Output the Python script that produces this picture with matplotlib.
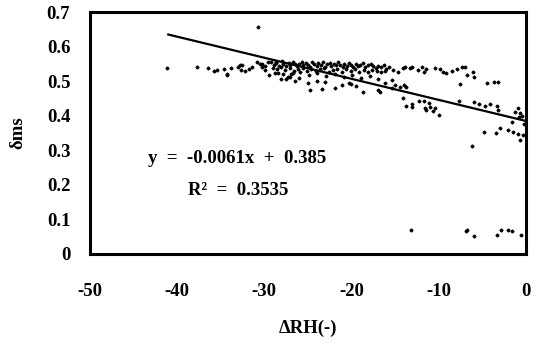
import matplotlib
matplotlib.use("Agg")
import matplotlib.pyplot as plt
import numpy as np

plt.rcParams['font.family'] = ['Liberation Serif', 'DejaVu Serif']
plt.rcParams['font.weight'] = 'bold'

# scattered points (delta RH, delta ms)
x_sparse = [-41.1, -37.7, -36.4, -35.8, -35.4, -34.6, -34.3, -34.3, -33.8, -33.0, -32.8, -32.5,
            -32.7, -32.2, -31.7, -31.4, -30.8, -30.5, -30.2, -30.3, -29.9, -29.6, -29.9, -29.4,
            -28.4, -28.7, -30.7, -24.8, -23.4, -21.9, -28.1, -27.3, -26.7]
y_sparse = [0.538, 0.541, 0.538, 0.529, 0.532, 0.535, 0.518, 0.521, 0.538, 0.541, 0.547, 0.547,
            0.532, 0.529, 0.535, 0.541, 0.555, 0.550, 0.550, 0.541, 0.544, 0.555, 0.532, 0.518,
            0.524, 0.555, 0.657, 0.474, 0.477, 0.480, 0.506, 0.512, 0.524]

x_band = [-29.2, -28.9, -28.6, -28.3, -28.0, -27.8, -27.5, -27.2, -27.0, -26.7, -26.5, -26.2,
          -26.0, -25.7, -25.5, -25.2, -25.0, -24.8, -24.5, -24.3, -24.0, -23.8, -23.5, -23.3,
          -23.0, -22.8, -22.5, -22.3, -22.0, -21.8, -21.5, -21.3, -21.0, -20.8, -20.5, -20.3,
          -20.0, -19.8, -19.5, -19.2, -19.0, -18.7, -18.4, -18.1, -17.8, -17.5, -17.2, -16.9,
          -16.6, -16.3, -16.0, -15.7,
          -29.0, -28.5, -28.1, -27.6, -27.1, -26.6, -26.1, -25.6, -25.1, -24.6, -24.1, -23.6,
          -23.1, -22.6, -22.1, -21.6, -21.1, -20.6, -20.1, -19.6, -19.1, -18.6, -18.1, -17.6,
          -17.1, -16.6, -16.1,
          -28.8, -27.9, -26.9, -25.9, -24.9, -23.9, -22.9, -21.9, -20.9, -19.9, -18.9, -17.9,
          -16.9]
y_band = [0.556, 0.548, 0.552, 0.545, 0.558, 0.550, 0.544, 0.553, 0.547, 0.556, 0.549, 0.543,
          0.551, 0.557, 0.546, 0.552, 0.548, 0.541, 0.555, 0.549, 0.545, 0.552, 0.547, 0.556,
          0.541, 0.549, 0.553, 0.544, 0.550, 0.546, 0.555, 0.548, 0.542, 0.551, 0.545, 0.553,
          0.547, 0.541, 0.550, 0.544, 0.548, 0.553, 0.540, 0.546, 0.549, 0.543, 0.537, 0.545,
          0.540, 0.548, 0.536, 0.542,
          0.538, 0.535, 0.540, 0.532, 0.537, 0.530, 0.535, 0.538, 0.531, 0.536, 0.529, 0.534,
          0.537, 0.528, 0.533, 0.536, 0.527, 0.534, 0.530, 0.535, 0.528, 0.532, 0.527, 0.533,
          0.529, 0.526, 0.531,
          0.525, 0.522, 0.520, 0.526, 0.518, 0.523, 0.515, 0.520, 0.512, 0.517, 0.510, 0.514,
          0.507]

x_mid = [-27.5, -27.0, -26.5, -26.0, -25.0, -24.0, -23.0, -21.1, -20.3, -20.0, -19.5, -18.7,
         -17.0, -16.7, -16.2, -15.4, -15.0]
y_mid = [0.505, 0.512, 0.500, 0.508, 0.495, 0.502, 0.498, 0.489, 0.495, 0.492, 0.487, 0.469,
         0.474, 0.469, 0.495, 0.503, 0.489]

x_right = [-15.25, -14.7, -14.1, -13.9, -13.3, -13.0, -12.4, -11.9, -11.7, -11.4, -10.4, -9.9,
           -9.5, -9.1, -8.5, -7.9, -7.3, -7.0, -6.7, -6.1, -5.9, -7.5, -4.4, -3.7, -3.2,
           -15.4, -14.4, -14.0, -13.8, -14.1, -13.1, -13.8, -13.1, -12.2, -11.7, -11.6, -11.5,
           -11.1, -11.0, -10.7, -10.4, -10.0, -7.7, -6.0, -5.4, -4.7, -4.1, -3.3, -3.2, -0.9,
           -1.3, -0.7, -0.8, -1.6, -4.8, -3.4, -3.0, -2.1, -1.5, -0.9, -0.3, -0.7, -6.2,
           -0.2, -0.4]
y_right = [0.532, 0.526, 0.538, 0.541, 0.538, 0.541, 0.532, 0.541, 0.526, 0.535, 0.538, 0.535,
           0.526, 0.524, 0.529, 0.535, 0.541, 0.541, 0.518, 0.526, 0.512, 0.492, 0.495, 0.498,
           0.498,
           0.480, 0.483, 0.489, 0.483, 0.451, 0.434, 0.428, 0.425, 0.443, 0.443, 0.422, 0.417,
           0.437, 0.425, 0.414, 0.422, 0.402, 0.443, 0.440, 0.434, 0.428, 0.434, 0.428, 0.417,
           0.422, 0.411, 0.408, 0.396, 0.382, 0.353, 0.350, 0.364, 0.359, 0.353, 0.347, 0.344,
           0.330, 0.312, 0.375, 0.400]

x_low = [-13.2, -6.9, -6.7, -5.9, -3.3, -2.8, -2.1, -1.6, -0.5]
y_low = [0.069, 0.067, 0.070, 0.052, 0.055, 0.069, 0.069, 0.067, 0.055]

slope = -0.0061
intercept = 0.385
line_x = [-41.0, 0.0]

xs = np.array(x_sparse + x_band + x_mid + x_right + x_low)
ys = np.array(y_sparse + y_band + y_mid + y_right + y_low)

fig = plt.figure(figsize=(5.41, 3.46), dpi=100)
ax = fig.add_axes([0.166, 0.266, 0.806, 0.699])

ax.plot(xs, ys, linestyle='none', marker='D', markersize=1.5, color='black')
lx = np.array(line_x)
ax.plot(lx, slope * lx + intercept, color='black', linewidth=1.6)

ax.set_xlim(-50, 0)
ax.set_ylim(0, 0.7)
ax.set_xticks([-50, -40, -30, -20, -10, 0])
ax.set_xticklabels(['-50', '-40', '-30', '-20', '-10', '0'])
ax.set_yticks([0, 0.1, 0.2, 0.3, 0.4, 0.5, 0.6, 0.7])
ax.set_yticklabels(['0', '0.1', '0.2', '0.3', '0.4', '0.5', '0.6', '0.7'])
ax.tick_params(axis='both', length=0, labelsize=13.5)
ax.tick_params(axis='x', pad=21)
ax.tick_params(axis='y', pad=14)
for s in ax.spines.values():
    s.set_linewidth(2.2)
    s.set_color('black')

ax.set_xlabel('ΔRH(-)', fontsize=13.5, fontweight='bold', labelpad=14)
ax.set_ylabel('δms', fontsize=13.5, fontweight='bold', labelpad=15)

ax.text(-33.1, 0.277, 'y  =  -0.0061x  +  0.385', ha='center', va='center', fontsize=13.5,
        fontweight='bold')
ax.text(-33.0, 0.185, 'R²  =  0.3535', ha='center', va='center', fontsize=13.5,
        fontweight='bold')

fig.savefig('out.png', dpi=100)
